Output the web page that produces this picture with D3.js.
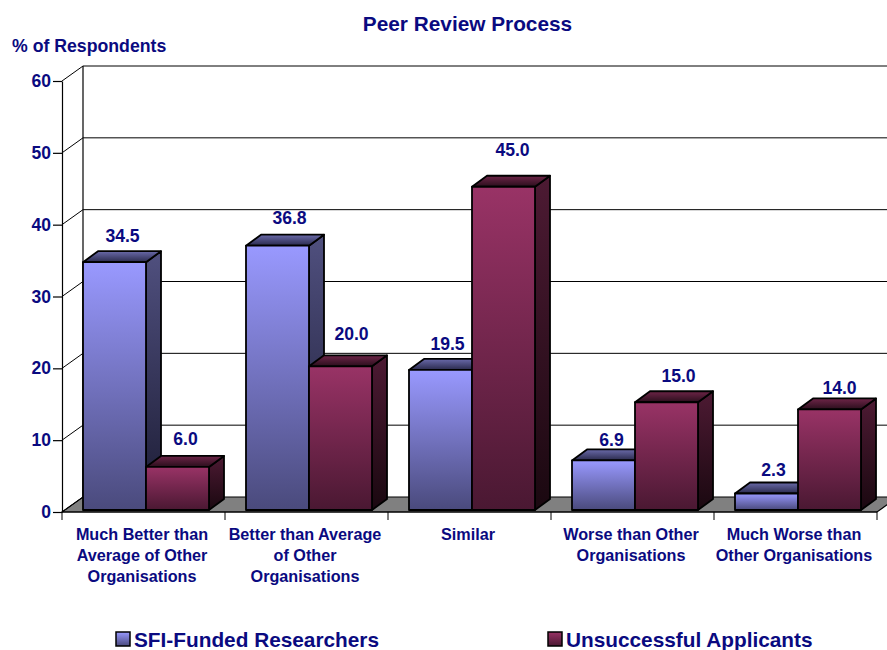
<!DOCTYPE html>
<html>
<head>
<meta charset="utf-8">
<script src="https://cdn.jsdelivr.net/npm/d3@7"></script>
<style>
    html, body { margin: 0; padding: 0; background: #fff; overflow: hidden; }
    svg { display: block; }
    text { font-family: "Liberation Sans", Arial, sans-serif; font-weight: bold; fill: #0a0a80; }
</style>
</head>
<body>
<svg id="chart" width="887" height="650"></svg>
<script>
const categories = [
    ['Much Better than', 'Average of Other', 'Organisations'],
    ['Better than Average', 'of Other', 'Organisations'],
    ['Similar'],
    ['Worse than Other', 'Organisations'],
    ['Much Worse than', 'Other Organisations']
];
const seriesNames = ['SFI-Funded Researchers', 'Unsuccessful Applicants'];
const sfiValues = [34.5, 36.8, 19.5, 6.9, 2.3];
const unsuccessfulValues = [6.0, 20.0, 45.0, 15.0, 14.0];
const yTicks = [0, 10, 20, 30, 40, 50, 60];

const svg = d3.select('#chart');
const defs = svg.append('defs');

// plot geometry
const wallDx = 21, wallDy = -15;   // depth of the back wall
const barDx = 15, barDy = -11;     // depth of one bar
const barLift = 2;                 // bars sit a little behind the front edge

// the value labels were dragged by hand in the original, so each has its own nudge
const valueNudge = [
    [[-3, 6], [1, 4], [-4, 6], [-3, 12], [-4, 9]],
    [[-3, 4], [0, 0], [-2, -5], [1, 6], [-1, 11]]
];

const y = d3.scaleLinear().domain([0, 60]).range([512, 81]);
const x = d3.scaleBand().domain(d3.range(categories.length)).range([62, 877]);
const inner = d3.scaleBand().domain([0, 1]).range([wallDx, wallDx + 126]);

function gradient(id, from, to) {
    const g = defs.append('linearGradient').attr('id', id)
        .attr('x1', 0).attr('y1', 0).attr('x2', 0).attr('y2', 1);
    g.append('stop').attr('offset', '0%').attr('stop-color', from);
    g.append('stop').attr('offset', '100%').attr('stop-color', to);
}
gradient('blueFront', '#9999ff', '#4a4a7c');
gradient('blueSide', '#50507f', '#1b1b33');
gradient('blueTop', '#6a6aaa', '#2a2a4c');
gradient('redFront', '#993366', '#4a1832');
gradient('redSide', '#4d1a33', '#1a0810');
gradient('redTop', '#6e2548', '#2a0e1c');

// floor and back wall
const wallRight = x.range()[1] + wallDx;
svg.append('polygon')
    .attr('points', [[x.range()[0], y(0)], [x.range()[0] + wallDx, y(0) + wallDy], [wallRight, y(0) + wallDy], [x.range()[1], y(0)]].join(' '))
    .attr('fill', '#808080').attr('stroke', '#000').attr('stroke-width', 1.2);

// gridlines on the wall and on the side wall
yTicks.forEach(t => {
    if (t > 0) {
        svg.append('line')
            .attr('x1', x.range()[0] + wallDx).attr('x2', wallRight)
            .attr('y1', y(t) + wallDy).attr('y2', y(t) + wallDy)
            .attr('stroke', '#000').attr('stroke-width', 1);
    }
    svg.append('line')
        .attr('x1', x.range()[0]).attr('x2', x.range()[0] + wallDx)
        .attr('y1', y(t)).attr('y2', y(t) + wallDy)
        .attr('stroke', '#000').attr('stroke-width', 1);
});
svg.append('line')
    .attr('x1', x.range()[0] + wallDx).attr('x2', x.range()[0] + wallDx)
    .attr('y1', y(60) + wallDy).attr('y2', y(0) + wallDy)
    .attr('stroke', '#000').attr('stroke-width', 1.2);

// y axis
const yAxis = svg.append('g')
    .attr('transform', `translate(${x.range()[0]},0)`)
    .call(d3.axisLeft(y).tickValues(yTicks).tickSize(9).tickSizeOuter(0).tickPadding(2));
yAxis.selectAll('text').style('font-size', '17.5px').attr('fill', null);
yAxis.selectAll('line, path').attr('stroke', '#000').attr('stroke-width', 1.2);

// x axis, ticks only, the labels are wrapped by hand
const xAxis = svg.append('g').attr('transform', `translate(0,${y(0)})`);
xAxis.append('line')
    .attr('x1', x.range()[0]).attr('x2', x.range()[1])
    .attr('stroke', '#000').attr('stroke-width', 1.2);
d3.range(categories.length + 1).forEach(i => {
    const tx = i < categories.length ? x(i) : x.range()[1];
    xAxis.append('line').attr('x1', tx).attr('x2', tx).attr('y2', 8)
        .attr('stroke', '#000').attr('stroke-width', 1);
});
categories.forEach((lines, i) => {
    const label = svg.append('text')
        .attr('text-anchor', 'middle')
        .style('font-size', '16.2px');
    lines.forEach((line, k) => {
        label.append('tspan')
            .attr('x', x(i) + x.bandwidth() / 2 - 1.5)
            .attr('y', 540 + k * 21)
            .text(line);
    });
});

// bars
function drawBar(i, s, value) {
    const left = x(i) + inner(s);
    const right = left + inner.bandwidth();
    const bottom = y(0) - barLift;
    const top = y(value) - barLift;
    const color = s === 0 ? 'blue' : 'red';
    const g = svg.append('g').attr('stroke', '#000').attr('stroke-width', 1.8).attr('stroke-linejoin', 'round');
    g.append('polygon')
        .attr('points', [[right, top], [right + barDx, top + barDy], [right + barDx, bottom + barDy], [right, bottom]].join(' '))
        .attr('fill', `url(#${color}Side)`);
    g.append('polygon')
        .attr('points', [[left, top], [left + barDx, top + barDy], [right + barDx, top + barDy], [right, top]].join(' '))
        .attr('fill', `url(#${color}Top)`);
    g.append('rect')
        .attr('x', left).attr('y', top)
        .attr('width', right - left).attr('height', bottom - top)
        .attr('fill', `url(#${color}Front)`);
}
function drawValue(i, s, value) {
    const [dx, dy] = valueNudge[s][i];
    svg.append('text')
        .attr('x', x(i) + inner(s) + inner.bandwidth() / 2 + 11 + dx)
        .attr('y', y(value) - barLift + barDy - 15 + dy)
        .attr('text-anchor', 'middle')
        .style('font-size', '17.6px')
        .text(value.toFixed(1));
}
categories.forEach((c, i) => {
    drawBar(i, 0, sfiValues[i]);
    drawBar(i, 1, unsuccessfulValues[i]);
});
categories.forEach((c, i) => {
    drawValue(i, 0, sfiValues[i]);
    drawValue(i, 1, unsuccessfulValues[i]);
});

// titles
svg.append('text').attr('x', 467.5).attr('y', 31).attr('text-anchor', 'middle')
    .style('font-size', '20.8px').text('Peer Review Process');
svg.append('text').attr('x', 12).attr('y', 52)
    .style('font-size', '17.7px').text('% of Respondents');

// legend
const legendX = [116, 548];
seriesNames.forEach((name, s) => {
    svg.append('rect')
        .attr('x', legendX[s]).attr('y', 632).attr('width', 14).attr('height', 14)
        .attr('fill', s === 0 ? 'url(#blueFront)' : 'url(#redFront)')
        .attr('stroke', '#000').attr('stroke-width', 1.5);
    svg.append('text')
        .attr('x', legendX[s] + 18).attr('y', 647)
        .style('font-size', '20.8px').text(name);
});
</script>
</body>
</html>
